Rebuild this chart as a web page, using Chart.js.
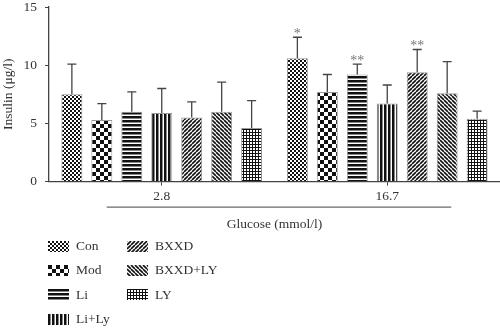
<!DOCTYPE html>
<html>
<head>
<meta charset="utf-8">
<script src="https://cdn.jsdelivr.net/npm/chart.js@4/dist/chart.umd.min.js"></script>
<style>
body{margin:0;background:#fff;}
#wrap{position:relative;width:500px;height:328px;}
#legend{position:absolute;left:48px;top:234px;display:grid;grid-template-rows:repeat(4,24.3px);grid-auto-flow:column;grid-template-columns:79px 120px;font-family:"Liberation Serif",serif;font-size:13.5px;color:#333;}
#legend div{display:flex;align-items:center;}
#legend canvas{margin-right:7px;}
</style>
</head>
<body>
<div id="wrap">
<canvas id="chart" width="500" height="328"></canvas>
<div id="legend"></div>
</div>
<script>
const glucose=["2.8","16.7"];
const groups=["Con","Mod","Li","Li+Ly","BXXD","BXXD+LY","LY"];
// mean insulin per group, [2.8, 16.7]
const con=[7.5,10.6];
const mod=[5.3,7.7];
const li=[6.0,9.2];
const liLy=[5.9,6.7];
const bxxd=[5.5,9.4];
const bxxdLy=[6.0,7.6];
const ly=[4.6,5.4];
// standard deviations
const conSd=[2.6,1.8];
const modSd=[1.4,1.5];
const liSd=[1.7,0.9];
const liLySd=[2.1,1.6];
const bxxdSd=[1.35,1.95];
const bxxdLySd=[2.55,2.7];
const lySd=[2.35,0.65];
// significance marks
const conSig=["","*"];
const liSig=["","**"];
const bxxdSig=["","**"];

function tile(w,h,draw){
 const c=document.createElement("canvas");c.width=w;c.height=h;
 const g=c.getContext("2d");g.fillStyle="#fff";g.fillRect(0,0,w,h);g.fillStyle="#111";g.strokeStyle="#111";
 draw(g);return c;
}
const tiles={
 fineCheck:tile(4,4,g=>{g.fillRect(0,0,2,2);g.fillRect(2,2,2,2);}),
 check:tile(8,8,g=>{g.fillRect(0,0,4,4);g.fillRect(4,4,4,4);}),
 hStripe:tile(4,4,g=>{g.fillRect(0,0,4,2);g.fillStyle="#888";g.fillRect(0,2,4,1);}),
 vStripe:tile(4,4,g=>{g.fillRect(0,0,2,4);g.fillStyle="#888";g.fillRect(2,0,1,4);}),
 diagUp:tile(4,4,g=>{g.lineWidth=1.6;g.beginPath();for(let k=-4;k<=8;k+=4){g.moveTo(k,4);g.lineTo(k+4,0);}g.stroke();}),
 diagDown:tile(4,4,g=>{g.lineWidth=1.6;g.beginPath();for(let k=-4;k<=8;k+=4){g.moveTo(k,0);g.lineTo(k+4,4);}g.stroke();}),
 grid:tile(3,3,g=>{g.fillRect(0,0,3,1);g.fillRect(0,0,1,3);})
};
const ctx=document.getElementById("chart").getContext("2d");
const pat=k=>ctx.createPattern(tiles[k],"repeat");
const keys=["fineCheck","check","hStripe","vStripe","diagUp","diagDown","grid"];
const means=[con,mod,li,liLy,bxxd,bxxdLy,ly];
const sds=[conSd,modSd,liSd,liLySd,bxxdSd,bxxdLySd,lySd];
const sigs=[conSig,null,liSig,null,bxxdSig,null,null];

const errorBars={
 id:"errorBars",
 afterDatasetsDraw(chart){
  const c=chart.ctx,ys=chart.scales.y;
  c.save();
  c.strokeStyle="#444";c.lineWidth=1.3;
  chart.data.datasets.forEach((ds,i)=>{
   chart.getDatasetMeta(i).data.forEach((bar,j)=>{
    const top=ys.getPixelForValue(ds.data[j]+ds.sd[j]);
    c.beginPath();
    c.moveTo(bar.x,bar.y);c.lineTo(bar.x,top);
    c.moveTo(bar.x-4.5,top);c.lineTo(bar.x+4.5,top);
    c.stroke();
    if(ds.sig&&ds.sig[j]){
     c.fillStyle="#777";c.font="14px 'Liberation Serif'";c.textAlign="center";c.textBaseline="alphabetic";
     c.fillText(ds.sig[j],bar.x,top+1);
    }
   });
  });
  // bracket under the glucose levels
  const xs=chart.scales.x;
  const y=xs.top+25.5;
  c.beginPath();c.lineWidth=1;c.strokeStyle="#444";
  c.moveTo(xs.getPixelForValue(0)-55,y);c.lineTo(xs.getPixelForValue(1)+64,y);c.stroke();
  c.restore();
 }
};

new Chart(ctx,{
 type:"bar",
 data:{labels:glucose,datasets:groups.map((g,i)=>({
  label:g,data:means[i],sd:sds[i],sig:sigs[i],
  backgroundColor:pat(keys[i]),borderColor:"#999",borderWidth:1,
  categoryPercentage:0.93,barPercentage:0.7
 }))},
 options:{
  responsive:false,animation:false,
  layout:{padding:{top:7,right:0,bottom:95,left:0}},
  plugins:{legend:{display:false},tooltip:{enabled:false}},
  scales:{
   x:{
    grid:{offset:false,drawOnChartArea:false,tickLength:4,color:"#444"},
    border:{color:"#444",width:1.3},
    ticks:{padding:3,color:"#333",font:{family:"Liberation Serif",size:13.5}},
    title:{display:true,text:"Glucose (mmol/l)",color:"#333",padding:{top:9,bottom:0},font:{family:"Liberation Serif",size:13.5}}
   },
   y:{
    min:0,max:15,
    afterFit(s){s.width=49;s.paddingTop=0;},
    grid:{drawOnChartArea:false,tickLength:4,color:"#444"},
    border:{color:"#444",width:1.3},
    ticks:{stepSize:5,padding:8,color:"#333",font:{family:"Liberation Serif",size:13.5}},
    title:{display:true,text:"Insulin (μg/l)",color:"#333",padding:{top:0,bottom:0},font:{family:"Liberation Serif",size:13.5}}
   }
  }
 },
 plugins:[errorBars]
});

const legend=document.getElementById("legend");
groups.forEach((g,i)=>{
 const d=document.createElement("div");
 const sw=document.createElement("canvas");sw.width=21;sw.height=11;
 const sc=sw.getContext("2d");sc.fillStyle=sc.createPattern(tiles[keys[i]],"repeat");sc.fillRect(0,0,21,11);
 d.appendChild(sw);d.appendChild(document.createTextNode(g));
 legend.appendChild(d);
});
</script>
</body>
</html>
